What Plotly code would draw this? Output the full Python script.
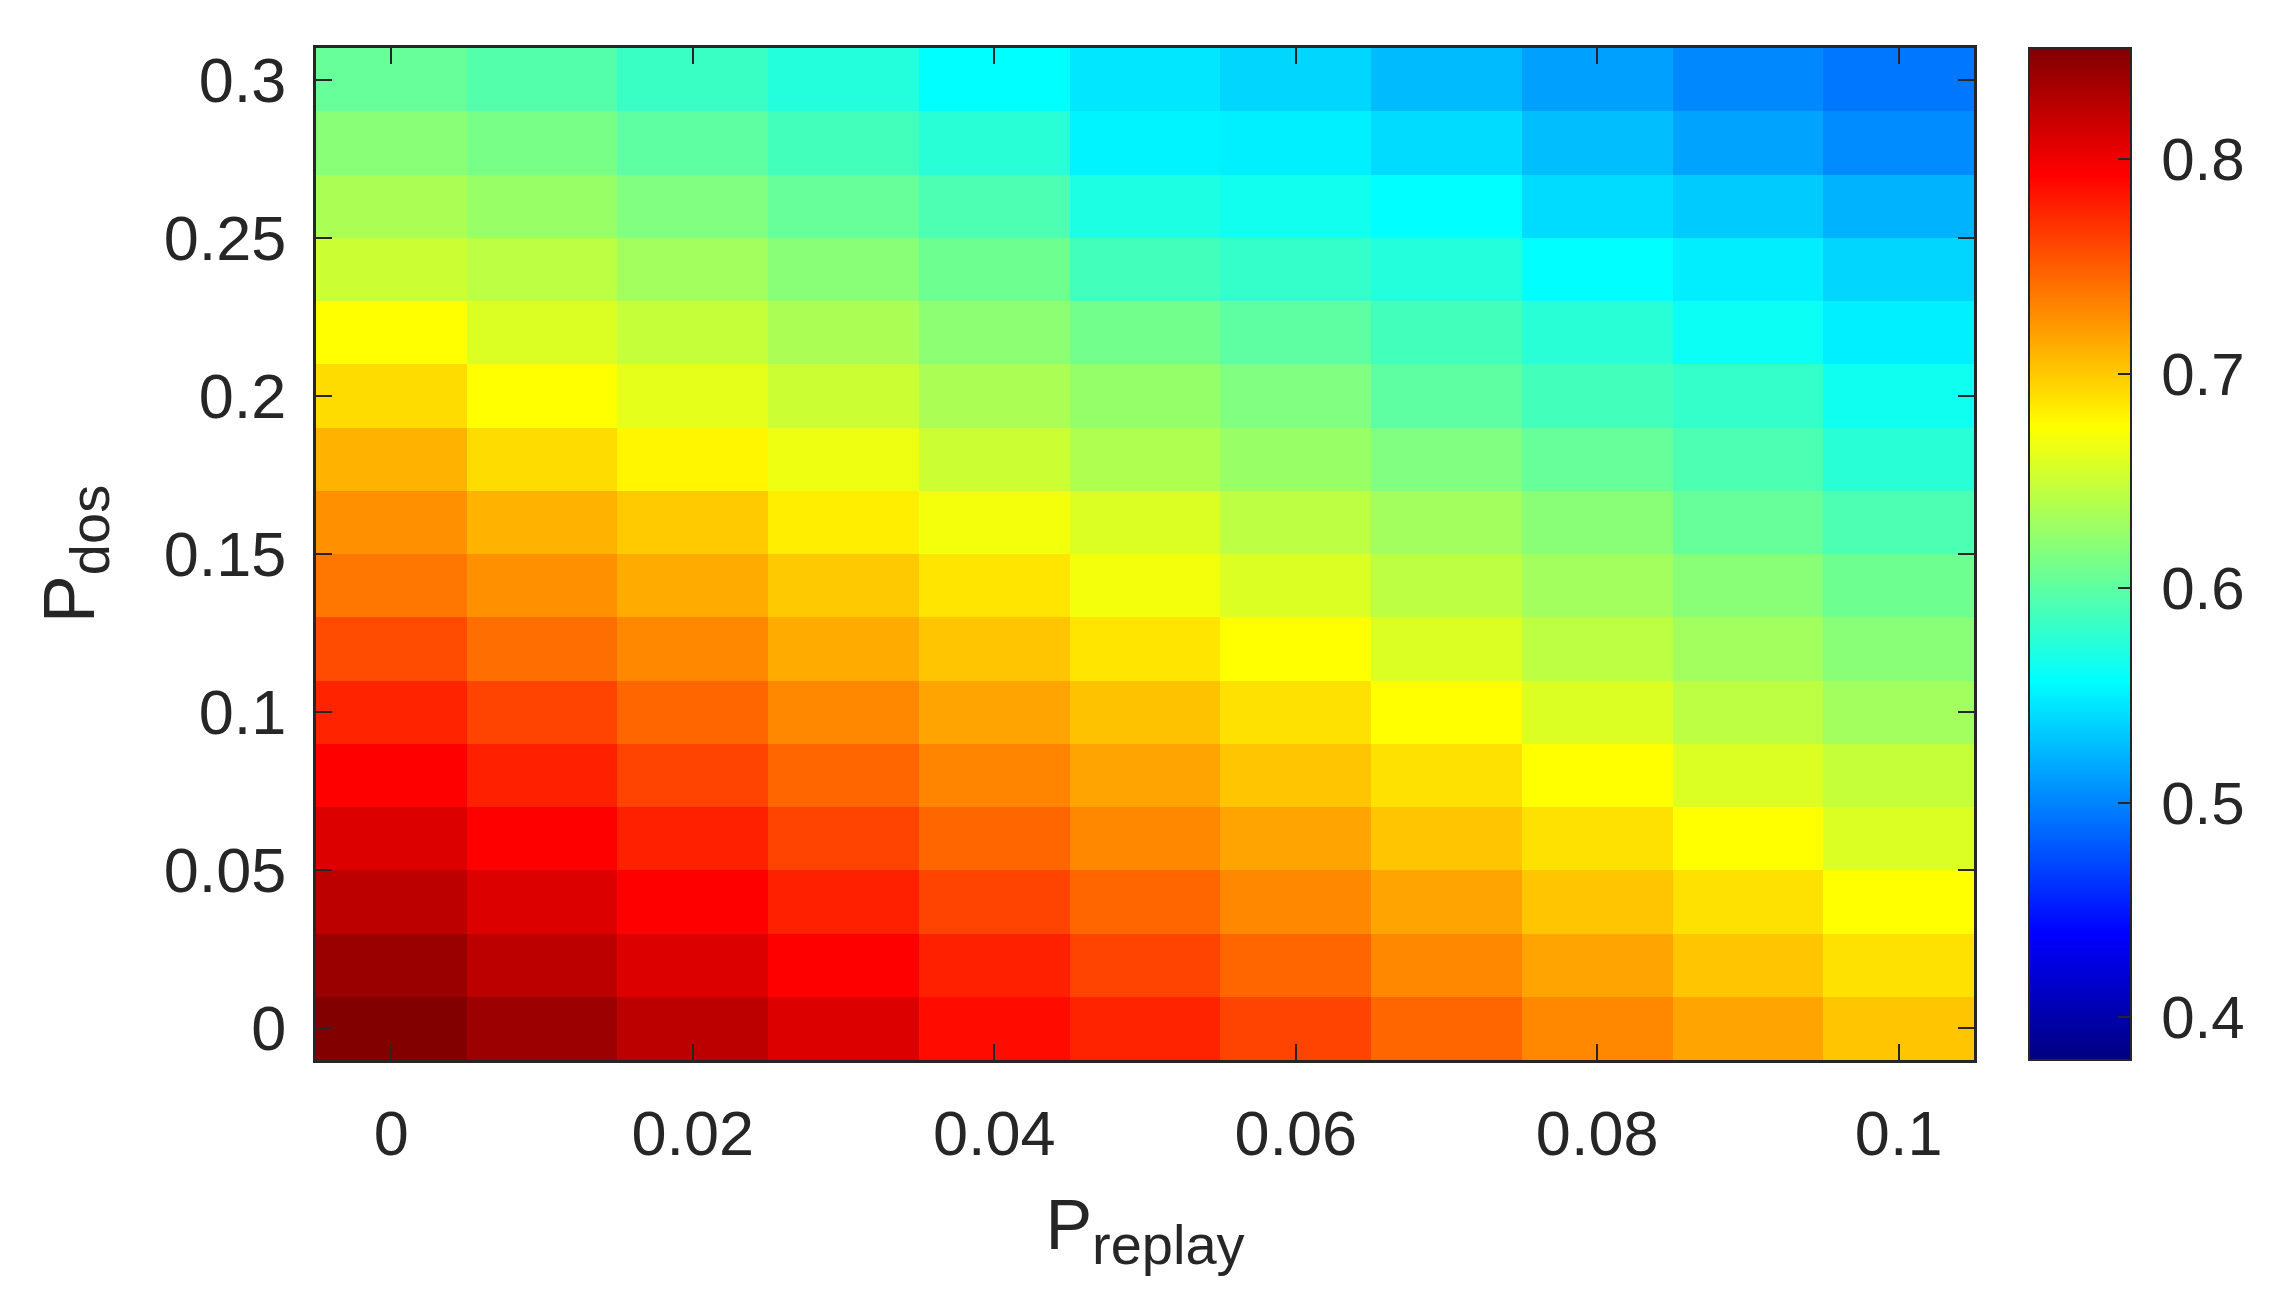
import plotly.graph_objects as go

# axes
p_replay = [0, 0.01, 0.02, 0.03, 0.04, 0.05, 0.06, 0.07, 0.08, 0.09, 0.1]
p_dos = [0, 0.02, 0.04, 0.06, 0.08, 0.1, 0.12, 0.14, 0.16, 0.18, 0.2, 0.22, 0.24, 0.26, 0.28, 0.3]

# values per row (P_dos from 0 up to 0.3), columns follow p_replay
row_000 = [0.851, 0.839, 0.824, 0.809, 0.788, 0.777, 0.762, 0.746, 0.730, 0.717, 0.702]
row_002 = [0.840, 0.824, 0.809, 0.793, 0.778, 0.762, 0.746, 0.730, 0.717, 0.702, 0.689]
row_004 = [0.824, 0.809, 0.793, 0.778, 0.762, 0.746, 0.730, 0.717, 0.702, 0.689, 0.675]
row_006 = [0.809, 0.793, 0.778, 0.762, 0.746, 0.730, 0.717, 0.702, 0.689, 0.675, 0.659]
row_008 = [0.793, 0.778, 0.762, 0.746, 0.732, 0.717, 0.702, 0.689, 0.675, 0.659, 0.648]
row_010 = [0.777, 0.762, 0.746, 0.730, 0.717, 0.703, 0.689, 0.675, 0.659, 0.644, 0.632]
row_012 = [0.758, 0.742, 0.730, 0.714, 0.702, 0.687, 0.675, 0.659, 0.644, 0.632, 0.620]
row_014 = [0.738, 0.726, 0.714, 0.700, 0.687, 0.670, 0.659, 0.644, 0.632, 0.620, 0.608]
row_016 = [0.726, 0.710, 0.699, 0.683, 0.670, 0.659, 0.644, 0.632, 0.620, 0.604, 0.592]
row_018 = [0.710, 0.691, 0.679, 0.667, 0.651, 0.638, 0.628, 0.616, 0.604, 0.592, 0.576]
row_020 = [0.691, 0.675, 0.663, 0.651, 0.636, 0.626, 0.616, 0.600, 0.588, 0.581, 0.564]
row_022 = [0.675, 0.659, 0.648, 0.636, 0.622, 0.610, 0.600, 0.588, 0.576, 0.562, 0.550]
row_024 = [0.651, 0.644, 0.632, 0.620, 0.608, 0.588, 0.581, 0.573, 0.557, 0.549, 0.538]
row_026 = [0.636, 0.628, 0.616, 0.604, 0.592, 0.570, 0.565, 0.557, 0.541, 0.533, 0.522]
row_028 = [0.620, 0.612, 0.600, 0.588, 0.576, 0.552, 0.550, 0.541, 0.527, 0.515, 0.504]
row_030 = [0.604, 0.596, 0.584, 0.573, 0.557, 0.546, 0.538, 0.526, 0.513, 0.502, 0.494]

z = [row_000, row_002, row_004, row_006, row_008, row_010, row_012, row_014,
     row_016, row_018, row_020, row_022, row_024, row_026, row_028, row_030]

# matlab jet
jet = [[0, '#000080'], [0.125, '#0000FF'], [0.375, '#00FFFF'],
       [0.625, '#FFFF00'], [0.875, '#FF0000'], [1, '#800000']]

ink = '#262626'
font = dict(family='Arial, Liberation Sans, sans-serif', size=63, color=ink)

fig = go.Figure()
fig.add_trace(go.Heatmap(
    x=p_replay, y=p_dos, z=z,
    colorscale=jet, zmin=0.38, zmax=0.852,
    colorbar=dict(
        x=1.027, xanchor='left', y=0.5, yanchor='middle', len=1,
        thickness=102, outlinewidth=2, outlinecolor=ink,
        tickvals=[0.4, 0.5, 0.6, 0.7, 0.8], ticktext=[' 0.4', ' 0.5', ' 0.6', ' 0.7', ' 0.8'],
        ticks='inside', ticklen=14, tickwidth=2, tickcolor=ink,
        tickfont=dict(size=60), ypad=0,
    ),
))

fig.update_layout(
    width=2276, height=1316,
    margin=dict(l=308, r=310, t=40, b=264),
    paper_bgcolor='white', plot_bgcolor='white',
    font=font,
    xaxis=dict(
        range=[-0.005, 0.105], tickvals=[0, 0.02, 0.04, 0.06, 0.08, 0.1],
        ticktext=['0', '0.02', '0.04', '0.06', '0.08', '0.1'],
        ticks='inside', ticklen=16, tickwidth=2, tickcolor=ink,
        showline=True, linewidth=3, linecolor=ink, mirror='ticks',
        showgrid=False, zeroline=False, ticklabelstandoff=16,
        title=dict(text='P<sub><span style="font-size:56px">replay</span></sub>',
                   font=dict(size=70), standoff=34),
    ),
    yaxis=dict(
        range=[-0.01, 0.31], tickvals=[0, 0.05, 0.1, 0.15, 0.2, 0.25, 0.3],
        ticktext=['0', '0.05', '0.1', '0.15', '0.2', '0.25', '0.3'],
        ticks='inside', ticklen=16, tickwidth=2, tickcolor=ink,
        showline=True, linewidth=3, linecolor=ink, mirror='ticks',
        showgrid=False, zeroline=False, ticklabelstandoff=14,
        title=dict(text='P<sub><span style="font-size:56px">dos</span></sub>',
                   font=dict(size=72), standoff=46),
    ),
)

fig.write_html("out.html")
